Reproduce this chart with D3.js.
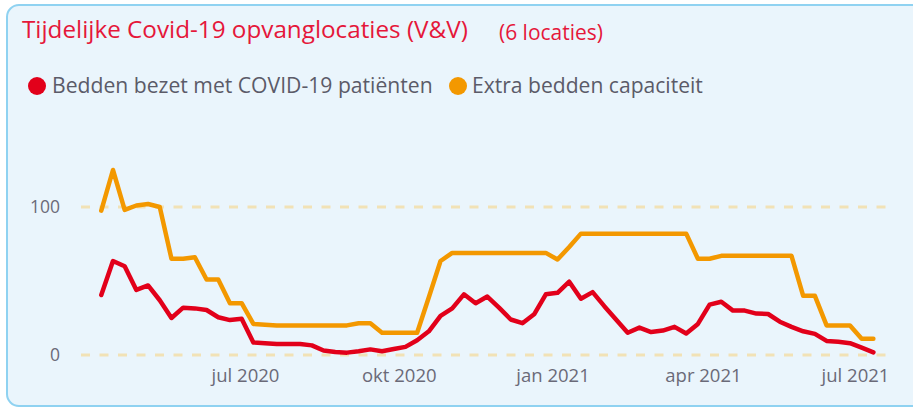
<!DOCTYPE html>
<html>
<head>
<meta charset="utf-8">
<script src="https://cdn.jsdelivr.net/npm/d3@7/dist/d3.min.js"></script>
<style>
  html, body { margin: 0; padding: 0; background: #ffffff; }
  svg { display: block; }
</style>
</head>
<body>
<svg id="chart" width="913" height="411"></svg>
<script>
// ---- data ----
const startDate = "2020-04-06";   // first weekly observation (Monday)
const weekCount = 67;
const bezet = [40.5,63.5,60,44,47,37,25,32,31.5,30.4,25.5,23.6,24.5,8.5,8,7.4,7.4,7.4,6.5,3,2,1.6,2.5,3.8,2.5,4,5.5,10,16,26.5,31.5,41,35,39.5,32,24,21.5,27.5,41,42,49.5,38,42.5,33,24,15,18.5,15.5,16.5,19,14.5,21,34,36,30,30,28,27.7,22.5,19,16,14.3,9.5,9,8,5,1.8];
const capaciteit = [97.5,125,98,101,102,100,65,65,66,51,51,35,35,21,20.5,20,20,20,20,20,20,20,21.4,21.4,15,15,15,15,39,63.5,69,69,69,69,69,69,69,69,69,64.5,73,82,82,82,82,82,82,82,82,82,82,65,65,67,67,67,67,67,67,67,40,40,20,20,20,11,11];
const tickDates = ["2020-07-01","2020-10-01","2021-01-01","2021-04-01","2021-07-01"];
const tickLabels = ["jul 2020","okt 2020","jan 2021","apr 2021","jul 2021"];
const yTicks = [0, 100];
const seriesNames = ["Bedden bezet met COVID-19 patiënten", "Extra bedden capaciteit"];
const seriesColors = ["#e2001a", "#f39800"];
const titleText = "Tijdelijke Covid-19 opvanglocaties (V&V)";
const subtitleText = "(6 locaties)";

// ---- setup ----
const parse = d3.utcParse("%Y-%m-%d");
const t0 = parse(startDate);
const dates = d3.range(weekCount).map(i => d3.utcDay.offset(t0, 7 * i));
const FONT = "'Open Sans', 'Noto Sans', sans-serif";

const svg = d3.select("#chart");

svg.append("rect")
  .attr("x", 7).attr("y", 5)
  .attr("width", 940).attr("height", 401)
  .attr("rx", 12).attr("ry", 12)
  .attr("fill", "#eaf5fc")
  .attr("stroke", "#8fd2f1")
  .attr("stroke-width", 2);

const x = d3.scaleUtc()
  .domain([parse("2020-07-01"), parse("2021-07-01")])
  .range([245, 855]);
const y = d3.scaleLinear().domain([0, 100]).range([355, 207]);

function fitWidth(sel, target) {
  const w = sel.node().getComputedTextLength();
  const fs = parseFloat(sel.attr("font-size"));
  if (w > 0) sel.attr("font-size", fs * target / w);
}

// title
const title = svg.append("text")
  .attr("x", 22).attr("y", 38)
  .attr("font-family", FONT).attr("font-size", 20)
  .attr("fill", "#e5173a")
  .text(titleText);
fitWidth(title, 446);

const sub = svg.append("text")
  .attr("x", 499).attr("y", 40)
  .attr("font-family", FONT).attr("font-size", 15)
  .attr("fill", "#e5173a")
  .text(subtitleText);
fitWidth(sub, 104);

// legend
const legendPos = [{cx: 37, tx: 52, w: 381}, {cx: 458, tx: 472, w: 231}];
seriesNames.forEach((name, i) => {
  svg.append("circle")
    .attr("cx", legendPos[i].cx).attr("cy", 86).attr("r", 9)
    .attr("fill", seriesColors[i]);
  const t = svg.append("text")
    .attr("x", legendPos[i].tx).attr("y", 93)
    .attr("font-family", FONT).attr("font-size", 18)
    .attr("fill", "#5b5b68")
    .text(name);
  fitWidth(t, legendPos[i].w);
});

// gridlines
svg.append("g").selectAll("line")
  .data(yTicks).join("line")
  .attr("x1", 81).attr("x2", 889)
  .attr("y1", d => y(d)).attr("y2", d => y(d))
  .attr("stroke", "#f1e2b6")
  .attr("stroke-width", 3)
  .attr("stroke-dasharray", "9 9.5");

// y axis labels
const yAxis = d3.axisLeft(y).tickValues(yTicks).tickSize(0).tickPadding(0);
const gy = svg.append("g").attr("transform", "translate(60,0)").call(yAxis);
gy.select(".domain").remove();
gy.selectAll("text")
  .attr("font-family", FONT).attr("font-size", 17.5)
  .attr("fill", "#6a6a78");

// x axis labels
const xAxis = d3.axisBottom(x)
  .tickValues(tickDates.map(parse))
  .tickFormat((d, i) => tickLabels[i])
  .tickSize(0).tickPadding(0);
const gx = svg.append("g").attr("transform", "translate(0,369)").call(xAxis);
gx.select(".domain").remove();
gx.selectAll("text")
  .attr("font-family", FONT).attr("font-size", 18.5)
  .attr("fill", "#6a6a78");

// lines
const line = d3.line()
  .x((d, i) => x(dates[i]))
  .y(d => y(d));

[capaciteit, bezet].forEach((vals, k) => {
  svg.append("path")
    .datum(vals)
    .attr("d", line)
    .attr("fill", "none")
    .attr("stroke", k === 0 ? seriesColors[1] : seriesColors[0])
    .attr("stroke-width", 4.5)
    .attr("stroke-linejoin", "round")
    .attr("stroke-linecap", "round");
});
</script>
</body>
</html>
